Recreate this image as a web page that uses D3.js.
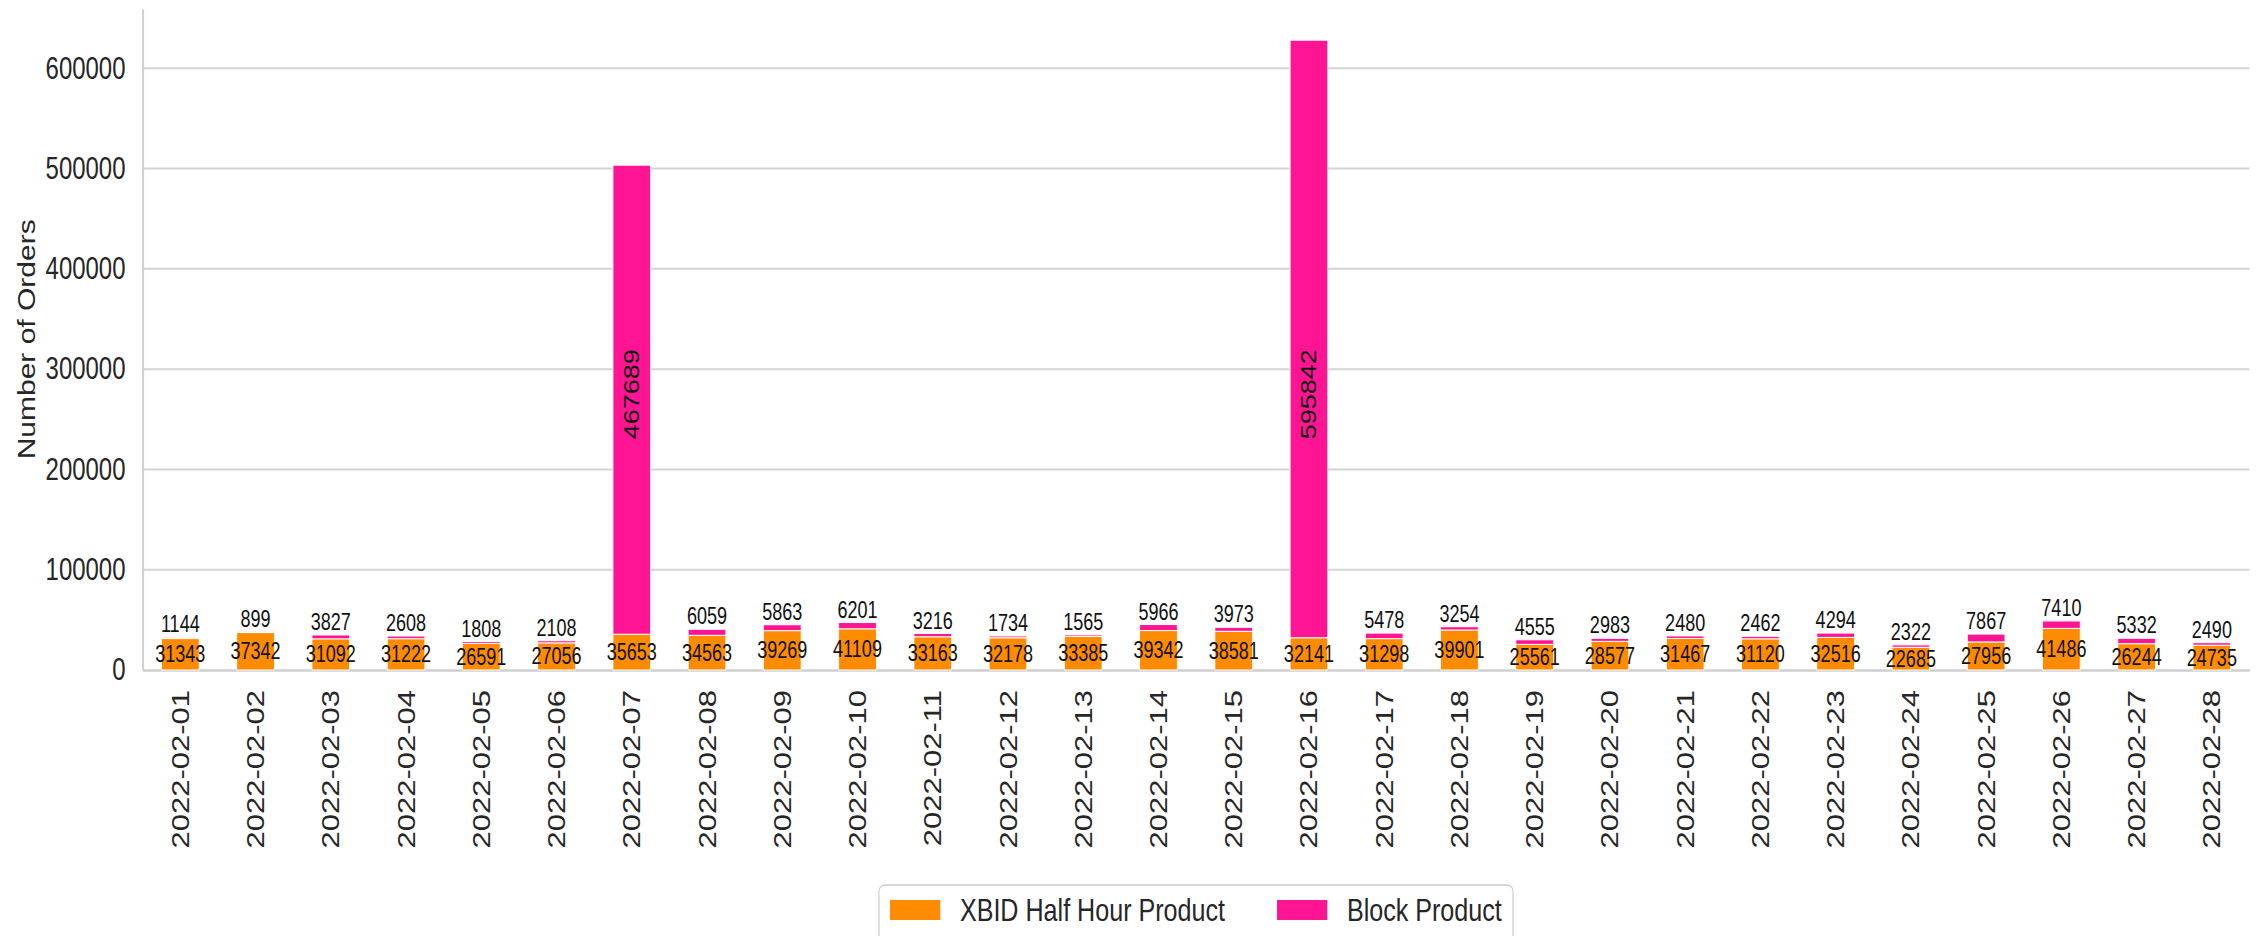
<!DOCTYPE html>
<html>
<head>
<meta charset="utf-8">
<script src="https://cdn.jsdelivr.net/npm/d3@7"></script>
<style>
  body { margin: 0; background: #fff; }
  text { font-family: "Liberation Sans", Arial, sans-serif; }
</style>
</head>
<body>
<div id="chart"></div>
<script>
// Chart data
let dates = ["2022-02-01", "2022-02-02", "2022-02-03", "2022-02-04", "2022-02-05", "2022-02-06", "2022-02-07",
             "2022-02-08", "2022-02-09", "2022-02-10", "2022-02-11", "2022-02-12", "2022-02-13", "2022-02-14",
             "2022-02-15", "2022-02-16", "2022-02-17", "2022-02-18", "2022-02-19", "2022-02-20", "2022-02-21",
             "2022-02-22", "2022-02-23", "2022-02-24", "2022-02-25", "2022-02-26", "2022-02-27", "2022-02-28"];
let xbidOrders = [31343, 37342, 31092, 31222, 26591, 27056, 35653, 34563, 39269, 41109, 33163, 32178, 33385, 39342,
                  38581, 32141, 31298, 39901, 25561, 28577, 31467, 31120, 32516, 22685, 27956, 41486, 26244, 24735];
let blockOrders = [1144, 899, 3827, 2608, 1808, 2108, 467689, 6059, 5863, 6201, 3216, 1734, 1565, 5966,
                   3973, 595842, 5478, 3254, 4555, 2983, 2480, 2462, 4294, 2322, 7867, 7410, 5332, 2490];
let yTicks = [0, 100000, 200000, 300000, 400000, 500000, 600000];
let seriesNames = ["XBID Half Hour Product", "Block Product"];
let seriesColors = ["#ff8c00", "#ff1493"];

// The picture is squeezed sideways, so draw wider and let the viewBox squeeze it
let svgWidth = 2257, svgHeight = 936;
let squeeze = 0.785;
let vbWidth = svgWidth / squeeze;

let margin = { top: 8.7, right: vbWidth - 2865.6, bottom: svgHeight - 670, left: 181.8 };
let chartWidth = vbWidth - margin.left - margin.right;
let chartHeight = svgHeight - margin.top - margin.bottom;

// big block values are written turned, at this height
let bigLabelAt = 275000;

let svg = d3.select('#chart')
            .append('svg')
            .attr('width', svgWidth)
            .attr('height', svgHeight)
            .attr('viewBox', `0 0 ${vbWidth} ${svgHeight}`)
            .attr('preserveAspectRatio', 'none');

let chartGrp = svg.append('g')
            .attr('transform', `translate(${margin.left}, ${margin.top})`);

let rows = dates.map((d, i) => ({ date: d, xbid: xbidOrders[i], block: blockOrders[i] }));
let stacked = d3.stack().keys(['xbid', 'block'])(rows);
let yMax = d3.max(rows, d => d.xbid + d.block) * 1.05;

let xScale = d3.scaleBand()
                .domain(dates)
                .range([0, chartWidth])
                .paddingInner(0.5)
                .paddingOuter(0.25);
let yScale = d3.scaleLinear()
                .domain([0, yMax])
                .range([chartHeight, 0]);

// Grid lines
chartGrp.append('g')
    .selectAll('line')
    .data(yTicks.slice(1))
    .enter()
    .append('line')
    .attr('x1', 0).attr('x2', chartWidth)
    .attr('y1', d => yScale(d)).attr('y2', d => yScale(d))
    .attr('stroke', '#d3d3d3')
    .attr('stroke-width', 2);

// Y axis
let yAxis = chartGrp.append('g')
    .call(d3.axisLeft(yScale).tickValues(yTicks).tickFormat(d3.format('d')).tickSize(0).tickPadding(22));
yAxis.select('.domain').attr('stroke', '#cfcfcf').attr('stroke-width', 2.5);
yAxis.selectAll('text').attr('font-size', 30.5).attr('fill', '#262626')
    .attr('font-family', '"Liberation Sans", Arial, sans-serif');

// X axis
let xAxis = chartGrp.append('g')
    .attr('transform', `translate(0, ${chartHeight})`)
    .call(d3.axisBottom(xScale).tickSize(0).tickPadding(0));
xAxis.select('.domain').attr('stroke', '#cfcfcf').attr('stroke-width', 2.5);
xAxis.selectAll('text')
    .attr('font-size', 31)
    .attr('fill', '#262626')
    .attr('font-family', '"Liberation Sans", Arial, sans-serif')
    .attr('text-anchor', 'end')
    .attr('dy', '0.35em')
    .attr('transform', 'translate(0, 20) rotate(-90)');

// Stacked bars
let layers = chartGrp.selectAll('.layer')
    .data(stacked)
    .enter()
    .append('g')
    .attr('fill', (d, i) => seriesColors[i]);

layers.selectAll('rect')
    .data(d => d)
    .enter()
    .append('rect')
    .attr('x', d => xScale(d.data.date))
    .attr('width', xScale.bandwidth())
    .attr('y', d => yScale(d[1]))
    .attr('height', d => yScale(d[0]) - yScale(d[1]))
    .attr('stroke', '#fff')
    .attr('stroke-width', 1);

// XBID labels in the middle of the orange bar
chartGrp.append('g')
    .selectAll('text')
    .data(stacked[0])
    .enter()
    .append('text')
    .attr('x', d => xScale(d.data.date) + xScale.bandwidth() / 2)
    .attr('y', d => yScale((d[0] + d[1]) / 2))
    .attr('dy', '0.35em')
    .attr('text-anchor', 'middle')
    .attr('font-size', 23)
    .attr('fill', '#111')
    .text(d => d[1] - d[0]);

// Block labels: small ones above the bar, big ones turned inside the bar
let blockLbl = chartGrp.append('g')
    .selectAll('text')
    .data(stacked[1])
    .enter()
    .append('text')
    .attr('font-size', 23)
    .attr('fill', '#111')
    .attr('text-anchor', 'middle')
    .text(d => d[1] - d[0]);

blockLbl.filter(d => d[1] - d[0] < 100000)
    .attr('x', d => xScale(d.data.date) + xScale.bandwidth() / 2)
    .attr('y', d => yScale(d[1]) - 5);

blockLbl.filter(d => d[1] - d[0] >= 100000)
    .attr('font-size', 27)
    .attr('dy', '0.35em')
    .attr('transform', d => `translate(${xScale(d.data.date) + xScale.bandwidth() / 2}, ${yScale(bigLabelAt)}) rotate(-90)`);

// Y label
svg.append('text')
    .attr('transform', `translate(34, ${margin.top + chartHeight / 2}) rotate(-90)`)
    .attr('text-anchor', 'middle')
    .attr('dy', '0.35em')
    .attr('font-size', 30)
    .attr('fill', '#262626')
    .text('Number of Orders');

// Legend
let legend = svg.append('g');
legend.append('rect')
    .attr('x', 1119.7).attr('y', 885)
    .attr('width', 1927.4 - 1119.7).attr('height', 80)
    .attr('rx', 8).attr('ry', 6)
    .attr('fill', '#fff')
    .attr('stroke', '#cccccc')
    .attr('stroke-width', 1.5);

let legendX = [1133.8, 1626.8];
seriesNames.forEach((name, i) => {
    legend.append('rect')
        .attr('x', legendX[i]).attr('y', 900)
        .attr('width', 64).attr('height', 20)
        .attr('fill', seriesColors[i]);
    legend.append('text')
        .attr('x', legendX[i] + 89).attr('y', 910)
        .attr('dy', '0.35em')
        .attr('font-size', 32)
        .attr('fill', '#262626')
        .text(name);
});
</script>
</body>
</html>
